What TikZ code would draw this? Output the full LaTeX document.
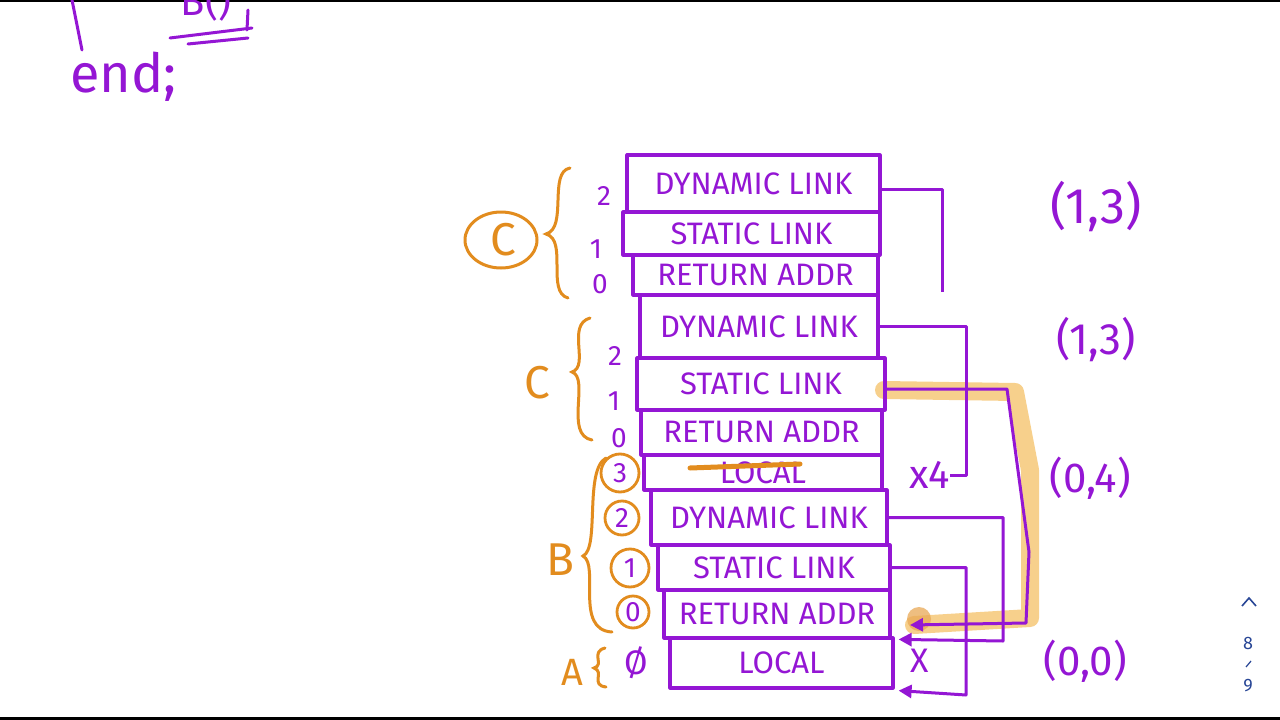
\documentclass[tikz,border=0pt]{standalone}
\usepackage{fontspec}
\setmainfont{Fira Sans}
\usetikzlibrary{arrows.meta}
\definecolor{pp}{RGB}{148,22,212}
\definecolor{orng}{RGB}{226,140,30}
\definecolor{hl}{RGB}{246,200,120}
\definecolor{nav}{RGB}{40,70,150}
\begin{document}
\begin{tikzpicture}[x=1pt,y=-1pt,
  cell/.style={draw=pp,line width=3.2pt,text=pp,font=\fontsize{31}{33}\selectfont,inner sep=0pt,line join=round},
  link/.style={draw=pp,line width=3pt,line join=round},
  arr/.style={link,-{Triangle[length=13pt,width=13pt]}},
  idx/.style={text=pp,font=\fontsize{28}{30}\selectfont,inner sep=0pt},
  cidx/.style={idx,draw=orng,line width=2.8pt,circle,minimum size=38pt},
  olab/.style={text=orng,font=\fontsize{46}{48}\selectfont,inner sep=0pt},
  brc/.style={draw=orng,line width=3pt,line cap=round},
  pair/.style={text=pp,font=\fontsize{50}{52}\selectfont,inner sep=0pt},
  navt/.style={text=nav,font=\fontsize{18}{20}\selectfont,inner sep=0pt}
]
\useasboundingbox (0,0) rectangle (1280,720);
\fill[white] (0,0) rectangle (1280,720);
\fill[black] (0,0) rectangle (1280,2);
\fill[black] (0,717) rectangle (1280,720);

% highlight of the static link path
\draw[hl,line width=18pt,line cap=round,line join=round,opacity=0.85]
  (884,390) -- (1015,392) -- (1030,470) -- (1030,618) -- (914,625);
\fill[orng!75,opacity=0.75] (919,619) circle (12pt);

% top-left code remnants
\draw[link,line cap=round] (72,0) -- (82,50);
\node[text=pp,font=\fontsize{54}{56}\selectfont,inner sep=0pt,anchor=base west] (endkw) at (70,92) {end;};
\node[text=pp,font=\fontsize{40}{42}\selectfont,inner sep=0pt,anchor=base] (bcall) at (206,16) {B()};
\draw[link,line cap=round] (170,38) -- (252,28);
\draw[link,line cap=round] (188,44) -- (248,38);
\draw[link,line cap=round] (248,10) -- (247,30);

% stack cells
\node[cell,minimum width=253pt,minimum height=57pt] (r1) at (753.5,183.5) {DYNAMIC LINK};
\node[cell,minimum width=257pt,minimum height=43pt] (r2) at (751.5,233.5) {STATIC LINK};
\node[cell,minimum width=245pt,minimum height=40pt] (r3) at (755.5,275) {RETURN ADDR};
\node[cell,minimum width=238pt,minimum height=63pt] (r4) at (759,326.5) {DYNAMIC LINK};
\node[cell,minimum width=248pt,minimum height=52pt] (r5) at (761,384) {STATIC LINK};
\node[cell,minimum width=241pt,minimum height=45pt] (r6) at (761.5,432.5) {RETURN ADDR};
\node[cell,minimum width=238pt,minimum height=35pt] (r7) at (763,472.5) {LOCAL};
\node[cell,minimum width=236pt,minimum height=55pt] (r8) at (769,517.5) {DYNAMIC LINK};
\node[cell,minimum width=232pt,minimum height=45pt] (r9) at (774,567.5) {STATIC LINK};
\node[cell,minimum width=226pt,minimum height=48pt] (r10) at (777,614) {RETURN ADDR};
\node[cell,minimum width=223pt,minimum height=50pt] (r11) at (781.5,663) {LOCAL};

% strike through the struck LOCAL
\draw[draw=orng,line width=5pt,line cap=round] (690,468) -- (800,464);

% labels right of the stack
\node[text=pp,font=\fontsize{40}{42}\selectfont,inner sep=0pt] (x4) at (930,475) {x4};
\node[text=pp,font=\fontsize{34}{36}\selectfont,inner sep=0pt] (xx) at (920,661) {X};

% connectors
\coordinate (c1) at (942,292);
\draw[link] ([yshift=-6pt]r1.east) -| (c1);
\coordinate (c2) at (966,475);
\draw[link] (r4.east) -| (c2) -- (x4.east);
\coordinate (s1) at (1007,389);
\coordinate (s2) at (1029,552);
\coordinate (s3) at (1026,623);
\coordinate (t1) at (910,625);
\draw[arr] ([yshift=-5pt]r5.east) -- (s1) -- (s2) -- (s3) -- (t1);
\coordinate (d1) at (1003,641);
\draw[arr] (r8.east) -| (d1) -- ([xshift=4pt,yshift=-3pt]r11.north east);
\coordinate (e1) at (966,695);
\draw[arr] (r9.east) -| (e1) -- ([xshift=4pt,yshift=-1pt]r11.south east);

% pairs
\node[pair] (p1) at (1096,207) {(1,3)};
\node[pair,font=\fontsize{44}{46}\selectfont] (p2) at (1096,340) {(1,3)};
\node[pair,font=\fontsize{42}{44}\selectfont] (p3) at (1090,478) {(0,4)};
\node[pair,font=\fontsize{42}{44}\selectfont] (p4) at (1085,661) {(0,0)};

% index numbers
\node[idx] (i12) at (604,196) {2};
\node[idx] (i11) at (596,249) {1};
\node[idx] (i10) at (600,284) {0};
\node[idx] (i22) at (615,356) {2};
\node[idx] (i21) at (614,401) {1};
\node[idx] (i20) at (619,438) {0};
\node[cidx] (i33) at (620,473) {3};
\node[cidx,minimum size=34pt] (i32) at (622,518) {2};
\node[cidx] (i31) at (630,568) {1};
\node[cidx,minimum size=32pt] (i30) at (633,612) {0};
\node[idx,font=\fontsize{34}{36}\selectfont] (i40) at (636,663) {Ø};

% braces and frame names
\draw[brc] (570,168) .. controls (548,172) and (568,228) .. (546,234) .. controls (568,240) and (546,292) .. (568,298);
\draw[draw=orng,line width=3pt] (501,240) ellipse (36pt and 28pt);
\node[olab] (fc1) at (503,240) {C};
\draw[brc] (590,318) .. controls (566,325) and (590,366) .. (572,372) .. controls (590,378) and (564,435) .. (592,440);
\node[olab] (fc2) at (537,383) {C};
\draw[brc] (606,458) .. controls (584,470) and (600,548) .. (583,556) .. controls (600,565) and (574,630) .. (612,632);
\node[olab] (fb) at (560,560) {B};
\draw[brc] (605,648) .. controls (590,652) and (605,665) .. (594,668) .. controls (605,672) and (590,685) .. (606,687);
\node[olab,font=\fontsize{38}{40}\selectfont] (fa) at (572,672) {A};

% page navigation
\draw[draw=nav,line width=1.6pt] (1242,606) -- (1249,598) -- (1256,606);
\node[navt] (n8) at (1248,643) {8};
\draw[draw=nav,line width=1.2pt] (1246,667) -- (1251,661);
\node[navt] (n9) at (1248,686) {9};
\end{tikzpicture}
\end{document}
